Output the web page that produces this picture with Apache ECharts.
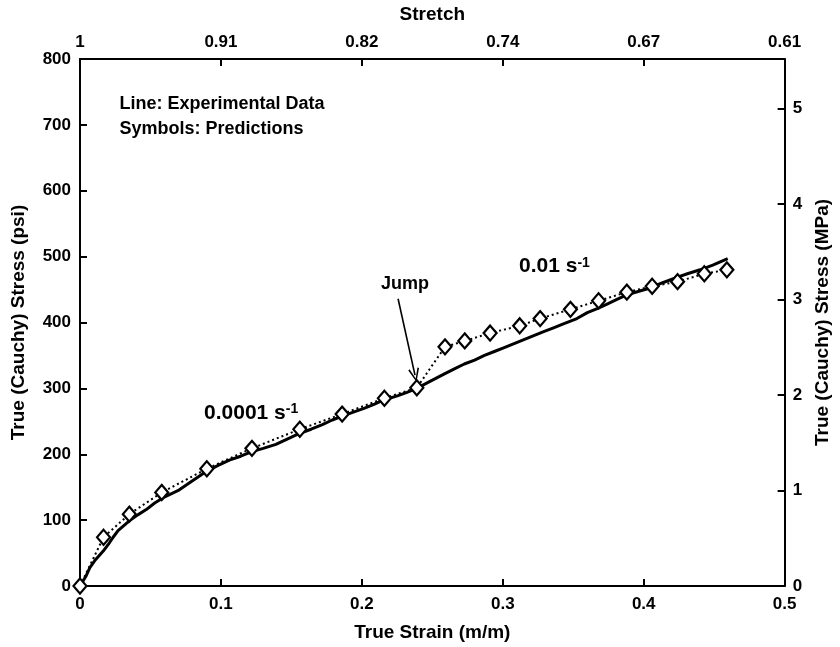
<!DOCTYPE html>
<html><head><meta charset="utf-8">
<script src="https://cdn.jsdelivr.net/npm/echarts@6/dist/echarts.min.js"></script>
<style>html,body{margin:0;padding:0;background:#fff}#c{width:840px;height:647px}</style>
</head><body><div id="c"></div><script>
// Experimental data (true strain, true stress psi)
const expStrain = [0,0.004,0.007,0.011,0.0165,0.021,0.0235,0.027,0.035,0.041,0.047,0.053,0.059,0.0705,0.078,0.089,0.098,0.106,0.114,0.122,0.130,0.139,0.147,0.155,0.164,0.172,0.179,0.186,0.194,0.202,0.209,0.215,0.2257,0.232,0.239,0.247,0.2586,0.266,0.2727,0.280,0.287,0.294,0.301,0.308,0.315,0.322,0.329,0.336,0.343,0.3526,0.36,0.367,0.374,0.381,0.388,0.396,0.404,0.413,0.423,0.431,0.44,0.449,0.4596];
const expStress = [0,14,28,40,53,66,74,84,99,108,116,126,134,146,157,173,183,191,197,204,209,215,223,231,238,245,252,258,264,270,276,282,289,294,300,309,322,330,337,343,350,356,362,368,374,380,386,392,398,406,415,421,428,435,442,447,452,460,468,474,480,487,497];
// Predictions
const predStrain = [0,0.0167,0.035,0.058,0.090,0.122,0.156,0.186,0.216,0.239,0.259,0.273,0.291,0.312,0.3265,0.348,0.368,0.388,0.406,0.424,0.443,0.459];
const predStress = [0,74,109,142,178,209,238,261,285,301,363,372,384,395,406,420,433,446,455,462,474,480];
// Tick labels
const stretchLabels = ['1','0.91','0.82','0.74','0.67','0.61'];
const psiPerMPa = 145.038;

const FONT = 'Liberation Sans, Arial, Helvetica, sans-serif';
const chart = echarts.init(document.getElementById('c'), null, {renderer:'canvas'});

function axisBase(){
  return {
    type:'value',
    axisLine:{show:true,onZero:false,lineStyle:{color:'#000',width:2}},
    axisTick:{show:true,inside:true,length:7,lineStyle:{color:'#000',width:2}},
    axisLabel:{color:'#000',fontSize:17,fontWeight:'bold',fontFamily:FONT},
    splitLine:{show:false},
    nameLocation:'middle',
    nameTextStyle:{color:'#000',fontSize:19,fontWeight:'bold',fontFamily:FONT}
  };
}

const xBottom = Object.assign(axisBase(), {min:0,max:0.5,interval:0.1,position:'bottom',name:'True Strain (m/m)',nameGap:37});
xBottom.axisLabel.margin = 10;
const xTop = Object.assign(axisBase(), {min:0,max:0.5,interval:0.1,position:'top',name:'Stretch',nameGap:35});
xTop.axisLabel.margin = 8;
xTop.axisLabel.formatter = function(v){ return stretchLabels[Math.round(v/0.1)]; };
const yLeft = Object.assign(axisBase(), {min:0,max:800,interval:100,position:'left',name:'True (Cauchy) Stress (psi)',nameGap:52});
yLeft.axisLabel.margin = 9;
const yRight = Object.assign(axisBase(), {min:0,max:800/psiPerMPa,interval:1,position:'right',name:'True (Cauchy) Stress (MPa)',nameGap:26});
yRight.axisLabel.margin = 8;
yRight.axisLabel.showMaxLabel = false;
yRight.axisLabel.formatter = function(v){ return Math.abs(v-Math.round(v))<1e-6 ? String(Math.round(v)) : ''; };

const arrowPath = 'path://M0,0L6,12L4.4,12.8L0,3.4L-4.4,12.8L-6,12Z';

chart.setOption({
  animation:false,
  backgroundColor:'#fff',
  grid:{left:80,right:51,top:56,bottom:60,containLabel:false},
  xAxis:[xBottom,xTop],
  yAxis:[yLeft,yRight],
  series:[
    {type:'line',name:'Experimental',xAxisIndex:0,yAxisIndex:0,showSymbol:false,symbol:'none',
     data:expStrain.map((s,i)=>[s,expStress[i]]),
     lineStyle:{color:'#000',width:3},z:2},
    {type:'line',name:'Predictions',xAxisIndex:0,yAxisIndex:0,
     data:predStrain.map((s,i)=>[s,predStress[i]]),
     symbol:'diamond',symbolSize:[13,15],
     itemStyle:{color:'#fff',borderColor:'#000',borderWidth:2.2},
     lineStyle:{color:'#000',width:2,type:[2,3]},z:3,
     markLine:{silent:true,animation:false,symbol:['none',arrowPath],symbolSize:[11,14],
       label:{show:false},lineStyle:{color:'#000',width:1.6,type:'solid'},
       data:[[{coord:[0.2257,436]},{coord:[0.2377,320]}]]}}
  ]
});

function px(x,y){ return chart.convertToPixel({xAxisIndex:0,yAxisIndex:0},[x,y]); }
const big = {fontSize:21,fontWeight:'bold',fontFamily:FONT,fill:'#000'};
const sup = {fontSize:14,fontWeight:'bold',fontFamily:FONT,fill:'#000',verticalAlign:'top'};
const p1 = px(0.028,732), p2 = px(0.028,693), p3 = px(0.088,263), p4 = px(0.3115,485), p5 = px(0.2306,459);
chart.setOption({graphic:[
  {type:'text',x:p1[0],y:p1[1],style:{text:'Line: Experimental Data',fontSize:18,fontWeight:'bold',fontFamily:FONT,fill:'#000',verticalAlign:'middle'}},
  {type:'text',x:p2[0],y:p2[1],style:{text:'Symbols: Predictions',fontSize:18,fontWeight:'bold',fontFamily:FONT,fill:'#000',verticalAlign:'middle'}},
  {type:'text',x:p3[0],y:p3[1],style:{text:'{b|0.0001 s}{s|-1}',verticalAlign:'middle',rich:{b:big,s:sup}}},
  {type:'text',x:p4[0],y:p4[1],style:{text:'{b|0.01 s}{s|-1}',verticalAlign:'middle',rich:{b:big,s:sup}}},
  {type:'text',x:p5[0],y:p5[1],style:{text:'Jump',fontSize:18,fontWeight:'bold',fontFamily:FONT,fill:'#000',align:'center',verticalAlign:'middle'}}
]});
</script></body></html>
